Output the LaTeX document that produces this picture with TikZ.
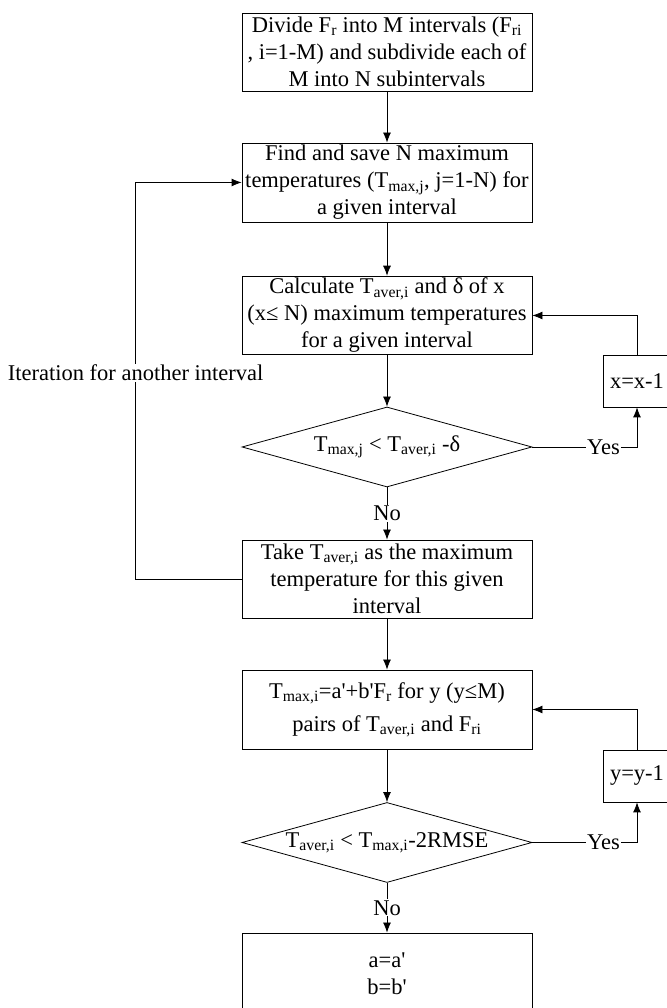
\documentclass[tikz,border=0pt]{standalone}
\usepackage{fontspec}
\setmainfont{Liberation Serif}
\usetikzlibrary{shapes.geometric,arrows.meta}

\begin{document}
\begin{tikzpicture}[x=1pt, y=1pt, line width=0.8pt,
  box/.style={draw, rectangle, minimum width=290pt, inner sep=2pt, align=center, font=\fontsize{22.5}{27}\selectfont},
  test/.style={draw, diamond, aspect=3.6, inner sep=0pt, minimum width=290pt, minimum height=80pt, font=\fontsize{22.5}{27}\selectfont},
  cnt/.style={draw, rectangle, minimum width=68pt, minimum height=52pt, font=\fontsize{22.5}{27}\selectfont},
  lbl/.style={fill=white, inner sep=1pt, font=\fontsize{22.5}{27}\selectfont},
  pfeil/.style={-{Latex[length=10pt,width=8pt]}}]
\useasboundingbox (0,0) rectangle (666,1008);

% first loop
\node[box, minimum height=78pt] (divide) at (387,956) {Divide F\textsubscript{r} into M intervals (F\textsubscript{ri}\\, i=1-M) and subdivide each of\\M into N subintervals};
\node[box, minimum height=79pt] (find) at (387,825.5) {Find and save N maximum\\temperatures (T\textsubscript{max,j}, j=1-N) for\\a given interval};
\node[box, minimum height=77pt] (calc) at (387,692.5) {Calculate T\textsubscript{aver,i} and δ of x\\(x≤ N) maximum temperatures\\for a given interval};
\node[test] (test1) at (387,561) {T\textsubscript{max,j} < T\textsubscript{aver,i} -δ};
\node[cnt] (xdec) at (637,627) {x=x-1};
\node[box, minimum height=78pt] (take) at (387,429) {Take T\textsubscript{aver,i} as the maximum\\temperature for this given\\interval};

% second loop
\node[box, minimum height=79pt] (fit) at (387,298.5) {T\textsubscript{max,i}=a\textquotesingle+b\textquotesingle F\textsubscript{r} for y (y≤M)\\[6pt]pairs of T\textsubscript{aver,i} and F\textsubscript{ri}};
\node[test] (test2) at (387,165.5) {T\textsubscript{aver,i} < T\textsubscript{max,i}-2RMSE};
\node[cnt] (ydec) at (637,232) {y=y-1};
\node[box, minimum height=81pt] (result) at (387,34.5) {a=a\textquotesingle\\b=b\textquotesingle};

\draw[pfeil] (divide) -- (find);
\draw[pfeil] (find) -- (calc);
\draw[pfeil] (calc) -- (test1);
\draw[pfeil] (test1.east) -- (xdec.south |- test1.east) node[lbl, pos=0.68] (yes1) {Yes} -- (xdec.south);
\draw[pfeil] (xdec.north) |- (calc.east);
\draw[pfeil] (test1.south) -- node[lbl] (no1) {No} (take.north);
\draw[pfeil] (take.west) -- ++(-106,0) |- node[lbl, pos=0.26] (iter) {Iteration for another interval} (find.west);

\draw[pfeil] (take) -- (fit);
\draw[pfeil] (fit) -- (test2);
\draw[pfeil] (test2.east) -- (ydec.south |- test2.east) node[lbl, pos=0.68] (yes2) {Yes} -- (ydec.south);
\draw[pfeil] (ydec.north) |- (fit.east);
\draw[pfeil] (test2.south) -- node[lbl] (no2) {No} (result.north);

\end{tikzpicture}
\end{document}
